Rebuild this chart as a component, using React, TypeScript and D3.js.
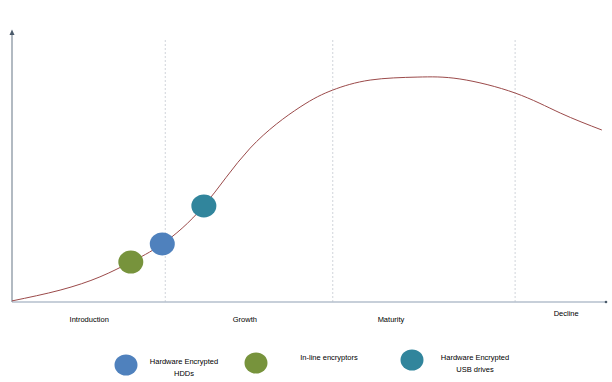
import React from "react";
import * as d3 from "d3";

// Lifecycle curve (x: stage position 0-100, y: adoption 0-100)
const curveX = [0, 8.1, 14.8, 20, 25.3, 32.3, 40.1, 48.5, 54, 60.3, 68.2, 75.4, 84.7, 92.3, 99.3];
const curveY = [0.4, 4.4, 9.3, 14.8, 21.5, 35.6, 57, 72.2, 78.5, 82.2, 83.3, 82.6, 77.4, 70, 63.7];

// Stage boundaries and labels
const stageBounds = [25.8, 54, 84.7];
const stageLabels = ["Introduction", "Growth", "Maturity", "Decline"];
const stageLabelX = [13, 39.2, 63.8, 93.3];
const stageLabelDy = [0, 0, 0, -6];

// Technologies placed on the curve
const techNames = ["In-line encryptors", "Hardware Encrypted HDDs", "Hardware Encrypted USB drives"];
const techX = [20, 25.3, 32.3];
const techY = [14.8, 21.5, 35.6];
const techColors = ["#77933C", "#4F81BD", "#31859C"];

// Legend
const legendLines = [["Hardware Encrypted", "HDDs"], ["In-line encryptors"], ["Hardware Encrypted", "USB drives"]];
const legendColors = ["#4F81BD", "#77933C", "#31859C"];
const legendCx = [126, 256, 412];
const legendCy = [365, 363, 360];
const legendTx = [184, 329, 475];
const legendTy = [364, 360, 360];

const W = 612, H = 382;

export default function App() {
  const x = d3.scaleLinear().domain([0, 100]).range([12, 606]);
  const y = d3.scaleLinear().domain([0, 100]).range([302, 32]);
  const pts: [number, number][] = curveX.map((v, i) => [v, curveY[i]]);
  const line = d3
    .line<[number, number]>()
    .x((d) => x(d[0]))
    .y((d) => y(d[1]))
    .curve(d3.curveNatural);
  const font = "'Liberation Sans', Arial, sans-serif";
  return (
    <svg width={W} height={H} style={{ position: "absolute", left: 0, top: 0, background: "#fff" }}>
      {stageBounds.map((b, i) => (
        <line key={i} x1={x(b)} x2={x(b)} y1={40} y2={302} stroke="#D0D4DA" strokeWidth={1} strokeDasharray="2,2" />
      ))}
      {/* axes */}
      <line x1={12} x2={12} y1={302} y2={33} stroke="#7F8C99" strokeWidth={1.2} />
      <path d="M9.5,35 L12,29.5 L14.5,35 Z" fill="#4A5A6A" />
      <line x1={12} x2={605} y1={302} y2={302} stroke="#B4BFCC" strokeWidth={1.5} />
      <circle cx={606} cy={302} r={1.3} fill="#4A5A6A" />
      <path d={line(pts) || ""} fill="none" stroke="#9B4A4A" strokeWidth={1} />
      {techX.map((v, i) => (
        <ellipse key={i} cx={x(v)} cy={y(techY[i])} rx={12.5} ry={11.5} fill={techColors[i]}>
          <title>{techNames[i]}</title>
        </ellipse>
      ))}
      {stageLabels.map((s, i) => (
        <text key={s} x={x(stageLabelX[i])} y={322 + stageLabelDy[i]} textAnchor="middle" fontFamily={font} fontSize={7.5} fill="#000">
          {s}
        </text>
      ))}
      {legendLines.map((ls, i) => (
        <g key={i}>
          <ellipse cx={legendCx[i]} cy={legendCy[i]} rx={11.5} ry={10.5} fill={legendColors[i]} />
          {ls.map((t, j) => (
            <text key={j} x={legendTx[i]} y={legendTy[i] + j * 12} textAnchor="middle" fontFamily={font} fontSize={7.5} fill="#000">
              {t}
            </text>
          ))}
        </g>
      ))}
    </svg>
  );
}
